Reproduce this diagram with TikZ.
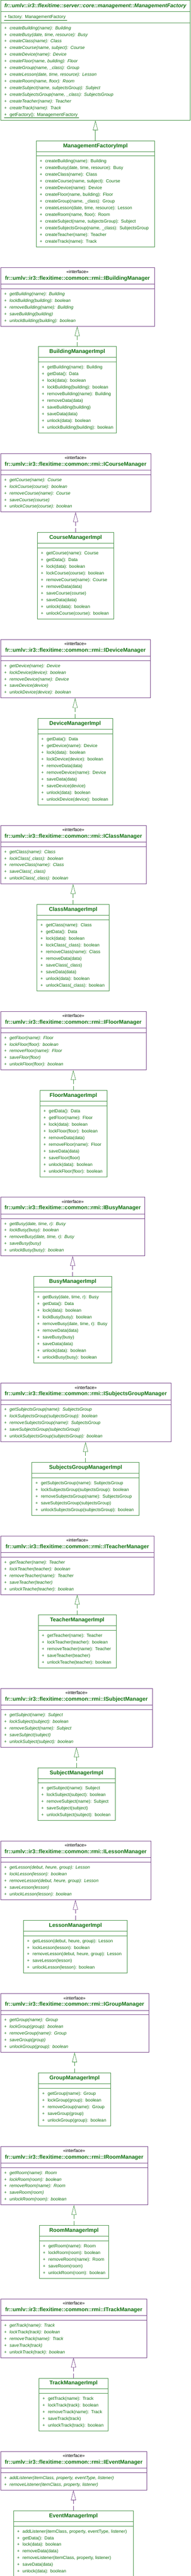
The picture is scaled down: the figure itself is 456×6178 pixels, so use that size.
\documentclass[tikz,border=0pt]{standalone}
\usepackage{fontspec}
\setmainfont{Liberation Sans}
\usetikzlibrary{arrows.meta}
\usetikzlibrary{shapes.multipart}
\definecolor{umlText}{RGB}{16,112,16}
\definecolor{umlGreen}{RGB}{76,150,76}
\definecolor{umlPurple}{RGB}{122,72,140}

\begin{document}
\begin{tikzpicture}[x = 1pt, y = -1pt, font = \fontsize{10.6}{16}\selectfont]
	\tikzstyle{classStyle} = [rectangle split, rectangle split parts = 3, anchor = north, outer sep = 0pt, inner xsep = 8.5pt, inner ysep = 4.5pt, line width = 0.9pt, align = left, text = umlText]
	\tikzstyle{interfaceStyle} = [classStyle, draw = umlPurple]
	\tikzstyle{implStyle} = [classStyle, draw = umlGreen]
	\tikzstyle{inheritStyle} = [draw = umlGreen, line width = 0.9pt, -{Triangle[open, length = 24pt, width = 12pt]}]
	\tikzstyle{realizeGreenStyle} = [inheritStyle, dash pattern = on 11pt off 5pt]
	\tikzstyle{realizePurpleStyle} = [realizeGreenStyle, draw = umlPurple]
	\useasboundingbox (0,0) rectangle (456,6178);
	\node[implStyle, text width = 436.8pt] (c0) at (228.4, 0.6) {\centering\fontsize{12.8}{17}\selectfont\bfseries\itshape\strut fr::umlv::ir3::flexitime::server::core::management::ManagementFactory\par
		\nodepart{two}\fontsize{10.6}{17}\selectfont\strut\underline{+ factory: ManagementFactory\ }
		\nodepart{three}\itshape\begin{tabular}{@{}l@{}}+~~createBuilding(name): Building\\ +~~createBusy(date, time, resource): Busy\\ +~~createClass(name): Class\\ +~~createCourse(name, subject): Course\\ +~~createDevice(name): Device\\ +~~createFloor(name, building): Floor\\ +~~createGroup(name, \_class): Group\\ +~~createLesson(date, time, resource): Lesson\\ +~~createRoom(name, floor): Room\\ +~~createSubject(name, subjectsGroup): Subject\\ +~~createSubjectsGroup(name, \_class): SubjectsGroup\\ +~~createTeacher(name): Teacher\\ +~~createTrack(name): Track\\ \upshape\underline{+~~getFactory(): ManagementFactory\ }\end{tabular}};
	\node[implStyle, text width = 267pt] (c1) at (228.4, 337.3) {\centering\fontsize{13.1}{16}\selectfont\bfseries\strut ManagementFactoryImpl\par
		\nodepart{two}\rule{0pt}{1pt}
		\nodepart{three}\begin{tabular}{@{}l@{}}+~~createBuilding(name): Building\\ +~~createBusy(date, time, resource): Busy\\ +~~createClass(name): Class\\ +~~createCourse(name, subject): Course\\ +~~createDevice(name): Device\\ +~~createFloor(name, building): Floor\\ +~~createGroup(name, \_class): Group\\ +~~createLesson(date, time, resource): Lesson\\ +~~createRoom(name, floor): Room\\ +~~createSubject(name, subjectsGroup): Subject\\ +~~createSubjectsGroup(name, \_class): SubjectsGroup\\ +~~createTeacher(name): Teacher\\ +~~createTrack(name): Track\end{tabular}};
	\node[interfaceStyle, text width = 351.4pt] (c2) at (185.5, 641.3) {\centering\rule{0pt}{9.2pt}{\fontsize{10.6}{15.7}\selectfont\color{black}«interface»}\\ \fontsize{13.1}{15.7}\selectfont\bfseries fr::umlv::ir3::flexitime::common::rmi::IBuildingManager\rule[-5.1pt]{0pt}{5.1pt}\par
		\nodepart{two}\rule{0pt}{1pt}
		\nodepart{three}\itshape\begin{tabular}{@{}l@{}}+~~getBuilding(name): Building\\ +~~lockBuilding(building): boolean\\ +~~removeBuilding(name): Building\\ +~~saveBuilding(building)\\ +~~unlockBuilding(building): boolean\end{tabular}};
	\node[implStyle, text width = 170pt] (c3) at (184.8, 831.3) {\centering\fontsize{13.1}{16}\selectfont\bfseries\strut BuildingManagerImpl\par
		\nodepart{two}\rule{0pt}{1pt}
		\nodepart{three}\begin{tabular}{@{}l@{}}+~~getBuilding(name): Building\\ +~~getData(): Data\\ +~~lock(data): boolean\\ +~~lockBuilding(building): boolean\\ +~~removeBuilding(name): Building\\ +~~removeData(data)\\ +~~saveBuilding(building)\\ +~~saveData(data)\\ +~~unlock(data): boolean\\ +~~unlockBuilding(building): boolean\end{tabular}};
	\node[interfaceStyle, text width = 342.4pt] (c4) at (181, 1087.3) {\centering\rule{0pt}{9.2pt}{\fontsize{10.6}{15.7}\selectfont\color{black}«interface»}\\ \fontsize{13.1}{15.7}\selectfont\bfseries fr::umlv::ir3::flexitime::common::rmi::ICourseManager\rule[-5.1pt]{0pt}{5.1pt}\par
		\nodepart{two}\rule{0pt}{1pt}
		\nodepart{three}\itshape\begin{tabular}{@{}l@{}}+~~getCourse(name): Course\\ +~~lockCourse(course): boolean\\ +~~removeCourse(name): Course\\ +~~saveCourse(course)\\ +~~unlockCourse(course): boolean\end{tabular}};
	\node[implStyle, text width = 166.4pt] (c5) at (181, 1277.3) {\centering\fontsize{13.1}{16}\selectfont\bfseries\strut CourseManagerImpl\par
		\nodepart{two}\rule{0pt}{1pt}
		\nodepart{three}\begin{tabular}{@{}l@{}}+~~getCourse(name): Course\\ +~~getData(): Data\\ +~~lock(data): boolean\\ +~~lockCourse(course): boolean\\ +~~removeCourse(name): Course\\ +~~removeData(data)\\ +~~saveCourse(course)\\ +~~saveData(data)\\ +~~unlock(data): boolean\\ +~~unlockCourse(course): boolean\end{tabular}};
	\node[interfaceStyle, text width = 341.4pt] (c6) at (180.5, 1533.3) {\centering\rule{0pt}{9.2pt}{\fontsize{10.6}{15.7}\selectfont\color{black}«interface»}\\ \fontsize{13.1}{15.7}\selectfont\bfseries fr::umlv::ir3::flexitime::common::rmi::IDeviceManager\rule[-5.1pt]{0pt}{5.1pt}\par
		\nodepart{two}\rule{0pt}{1pt}
		\nodepart{three}\itshape\begin{tabular}{@{}l@{}}+~~getDevice(name): Device\\ +~~lockDevice(device): boolean\\ +~~removeDevice(name): Device\\ +~~saveDevice(device)\\ +~~unlockDevice(device): boolean\end{tabular}};
	\node[implStyle, text width = 162pt] (c7) at (179.8, 1723.3) {\centering\fontsize{13.1}{16}\selectfont\bfseries\strut DeviceManagerImpl\par
		\nodepart{two}\rule{0pt}{1pt}
		\nodepart{three}\begin{tabular}{@{}l@{}}+~~getData(): Data\\ +~~getDevice(name): Device\\ +~~lock(data): boolean\\ +~~lockDevice(device): boolean\\ +~~removeData(data)\\ +~~removeDevice(name): Device\\ +~~saveData(data)\\ +~~saveDevice(device)\\ +~~unlock(data): boolean\\ +~~unlockDevice(device): boolean\end{tabular}};
	\node[interfaceStyle, text width = 331.4pt] (c8) at (175.5, 1979.3) {\centering\rule{0pt}{9.2pt}{\fontsize{10.6}{15.7}\selectfont\color{black}«interface»}\\ \fontsize{13.1}{15.7}\selectfont\bfseries fr::umlv::ir3::flexitime::common::rmi::IClassManager\rule[-5.1pt]{0pt}{5.1pt}\par
		\nodepart{two}\rule{0pt}{1pt}
		\nodepart{three}\itshape\begin{tabular}{@{}l@{}}+~~getClass(name): Class\\ +~~lockClass(\_class): boolean\\ +~~removeClass(name): Class\\ +~~saveClass(\_class)\\ +~~unlockClass(\_class): boolean\end{tabular}};
	\node[implStyle, text width = 156.4pt] (c9) at (175, 2169.3) {\centering\fontsize{13.1}{16}\selectfont\bfseries\strut ClassManagerImpl\par
		\nodepart{two}\rule{0pt}{1pt}
		\nodepart{three}\begin{tabular}{@{}l@{}}+~~getClass(name): Class\\ +~~getData(): Data\\ +~~lock(data): boolean\\ +~~lockClass(\_class): boolean\\ +~~removeClass(name): Class\\ +~~removeData(data)\\ +~~saveClass(\_class)\\ +~~saveData(data)\\ +~~unlock(data): boolean\\ +~~unlockClass(\_class): boolean\end{tabular}};
	\node[interfaceStyle, text width = 331.4pt] (c10) at (175.5, 2425.3) {\centering\rule{0pt}{9.2pt}{\fontsize{10.6}{15.7}\selectfont\color{black}«interface»}\\ \fontsize{13.1}{15.7}\selectfont\bfseries fr::umlv::ir3::flexitime::common::rmi::IFloorManager\rule[-5.1pt]{0pt}{5.1pt}\par
		\nodepart{two}\rule{0pt}{1pt}
		\nodepart{three}\itshape\begin{tabular}{@{}l@{}}+~~getFloor(name): Floor\\ +~~lockFloor(floor): boolean\\ +~~removeFloor(name): Floor\\ +~~saveFloor(floor)\\ +~~unlockFloor(floor): boolean\end{tabular}};
	\node[implStyle, text width = 143.4pt] (c11) at (175.5, 2615.3) {\centering\fontsize{13.1}{16}\selectfont\bfseries\strut FloorManagerImpl\par
		\nodepart{two}\rule{0pt}{1pt}
		\nodepart{three}\begin{tabular}{@{}l@{}}+~~getData(): Data\\ +~~getFloor(name): Floor\\ +~~lock(data): boolean\\ +~~lockFloor(floor): boolean\\ +~~removeData(data)\\ +~~removeFloor(name): Floor\\ +~~saveData(data)\\ +~~saveFloor(floor)\\ +~~unlock(data): boolean\\ +~~unlockFloor(floor): boolean\end{tabular}};
	\node[interfaceStyle, text width = 328.4pt] (c12) at (174, 2871.3) {\centering\rule{0pt}{9.2pt}{\fontsize{10.6}{15.7}\selectfont\color{black}«interface»}\\ \fontsize{13.1}{15.7}\selectfont\bfseries fr::umlv::ir3::flexitime::common::rmi::IBusyManager\rule[-5.1pt]{0pt}{5.1pt}\par
		\nodepart{two}\rule{0pt}{1pt}
		\nodepart{three}\itshape\begin{tabular}{@{}l@{}}+~~getBusy(date, time, r): Busy\\ +~~lockBusy(busy): boolean\\ +~~removeBusy(date, time, r): Busy\\ +~~saveBusy(busy)\\ +~~unlockBusy(busy): boolean\end{tabular}};
	\node[implStyle, text width = 170.4pt] (c13) at (174, 3061.3) {\centering\fontsize{13.1}{16}\selectfont\bfseries\strut BusyManagerImpl\par
		\nodepart{two}\rule{0pt}{1pt}
		\nodepart{three}\begin{tabular}{@{}l@{}}+~~getBusy(date, time, r): Busy\\ +~~getData(): Data\\ +~~lock(data): boolean\\ +~~lockBusy(busy): boolean\\ +~~removeBusy(date, time, r): Busy\\ +~~removeData(data)\\ +~~saveBusy(busy)\\ +~~saveData(data)\\ +~~unlock(data): boolean\\ +~~unlockBusy(busy): boolean\end{tabular}};
	\node[interfaceStyle, text width = 391pt] (c14) at (205.3, 3317.3) {\centering\rule{0pt}{9.2pt}{\fontsize{10.6}{15.7}\selectfont\color{black}«interface»}\\ \fontsize{13.1}{15.7}\selectfont\bfseries fr::umlv::ir3::flexitime::common::rmi::ISubjectsGroupManager\rule[-5.1pt]{0pt}{5.1pt}\par
		\nodepart{two}\rule{0pt}{1pt}
		\nodepart{three}\itshape\begin{tabular}{@{}l@{}}+~~getSubjectsGroup(name): SubjectsGroup\\ +~~lockSubjectsGroup(subjectsGroup): boolean\\ +~~removeSubjectsGroup(name): SubjectsGroup\\ +~~saveSubjectsGroup(subjectsGroup)\\ +~~unlockSubjectsGroup(subjectsGroup): boolean\end{tabular}};
	\node[implStyle, text width = 240pt] (c15) at (204.8, 3507.3) {\centering\fontsize{13.1}{16}\selectfont\bfseries\strut SubjectsGroupManagerImpl\par
		\nodepart{two}\rule{0pt}{1pt}
		\nodepart{three}\begin{tabular}{@{}l@{}}+~~getSubjectsGroup(name): SubjectsGroup\\ +~~lockSubjectsGroup(subjectsGroup): boolean\\ +~~removeSubjectsGroup(name): SubjectsGroup\\ +~~saveSubjectsGroup(subjectsGroup)\\ +~~unlockSubjectsGroup(subjectsGroup): boolean\end{tabular}};
	\node[interfaceStyle, text width = 350.4pt] (c16) at (185, 3683.3) {\centering\rule{0pt}{9.2pt}{\fontsize{10.6}{15.7}\selectfont\color{black}«interface»}\\ \fontsize{13.1}{15.7}\selectfont\bfseries fr::umlv::ir3::flexitime::common::rmi::ITeacherManager\rule[-5.1pt]{0pt}{5.1pt}\par
		\nodepart{two}\rule{0pt}{1pt}
		\nodepart{three}\itshape\begin{tabular}{@{}l@{}}+~~getTeacher(name): Teacher\\ +~~lockTeacher(teacher): boolean\\ +~~removeTeacher(name): Teacher\\ +~~saveTeacher(teacher)\\ +~~unlockTeache(teacher): boolean\end{tabular}};
	\node[implStyle, text width = 170pt] (c17) at (184.8, 3873.3) {\centering\fontsize{13.1}{16}\selectfont\bfseries\strut TeacherManagerImpl\par
		\nodepart{two}\rule{0pt}{1pt}
		\nodepart{three}\begin{tabular}{@{}l@{}}+~~getTeacher(name): Teacher\\ +~~lockTeacher(teacher): boolean\\ +~~removeTeacher(name): Teacher\\ +~~saveTeacher(teacher)\\ +~~unlockTeache(teacher): boolean\end{tabular}};
	\node[interfaceStyle, text width = 346.4pt] (c18) at (183, 4049.3) {\centering\rule{0pt}{9.2pt}{\fontsize{10.6}{15.7}\selectfont\color{black}«interface»}\\ \fontsize{13.1}{15.7}\selectfont\bfseries fr::umlv::ir3::flexitime::common::rmi::ISubjectManager\rule[-5.1pt]{0pt}{5.1pt}\par
		\nodepart{two}\rule{0pt}{1pt}
		\nodepart{three}\itshape\begin{tabular}{@{}l@{}}+~~getSubject(name): Subject\\ +~~lockSubject(subject): boolean\\ +~~removeSubject(name): Subject\\ +~~saveSubject(subject)\\ +~~unlockSubject(subject): boolean\end{tabular}};
	\node[implStyle, text width = 168.4pt] (c19) at (183, 4239.3) {\centering\fontsize{13.1}{16}\selectfont\bfseries\strut SubjectManagerImpl\par
		\nodepart{two}\rule{0pt}{1pt}
		\nodepart{three}\begin{tabular}{@{}l@{}}+~~getSubject(name): Subject\\ +~~lockSubject(subject): boolean\\ +~~removeSubject(name): Subject\\ +~~saveSubject(subject)\\ +~~unlockSubject(subject): boolean\end{tabular}};
	\node[interfaceStyle, text width = 342.4pt] (c20) at (181, 4415.3) {\centering\rule{0pt}{9.2pt}{\fontsize{10.6}{15.7}\selectfont\color{black}«interface»}\\ \fontsize{13.1}{15.7}\selectfont\bfseries fr::umlv::ir3::flexitime::common::rmi::ILessonManager\rule[-5.1pt]{0pt}{5.1pt}\par
		\nodepart{two}\rule{0pt}{1pt}
		\nodepart{three}\itshape\begin{tabular}{@{}l@{}}+~~getLesson(debut, heure, group): Lesson\\ +~~lockLesson(lesson): boolean\\ +~~removeLesson(debut, heure, group): Lesson\\ +~~saveLesson(lesson)\\ +~~unlockLesson(lesson): boolean\end{tabular}};
	\node[implStyle, text width = 231.4pt] (c21) at (180.5, 4605.3) {\centering\fontsize{13.1}{16}\selectfont\bfseries\strut LessonManagerImpl\par
		\nodepart{two}\rule{0pt}{1pt}
		\nodepart{three}\begin{tabular}{@{}l@{}}+~~getLesson(debut, heure, group): Lesson\\ +~~lockLesson(lesson): boolean\\ +~~removeLesson(debut, heure, group): Lesson\\ +~~saveLesson(lesson)\\ +~~unlockLesson(lesson): boolean\end{tabular}};
	\node[interfaceStyle, text width = 337.4pt] (c22) at (178.5, 4781.3) {\centering\rule{0pt}{9.2pt}{\fontsize{10.6}{15.7}\selectfont\color{black}«interface»}\\ \fontsize{13.1}{15.7}\selectfont\bfseries fr::umlv::ir3::flexitime::common::rmi::IGroupManager\rule[-5.1pt]{0pt}{5.1pt}\par
		\nodepart{two}\rule{0pt}{1pt}
		\nodepart{three}\itshape\begin{tabular}{@{}l@{}}+~~getGroup(name): Group\\ +~~lockGroup(group): boolean\\ +~~removeGroup(name): Group\\ +~~saveGroup(group)\\ +~~unlockGroup(group): boolean\end{tabular}};
	\node[implStyle, text width = 155.4pt] (c23) at (178.5, 4971.3) {\centering\fontsize{13.1}{16}\selectfont\bfseries\strut GroupManagerImpl\par
		\nodepart{two}\rule{0pt}{1pt}
		\nodepart{three}\begin{tabular}{@{}l@{}}+~~getGroup(name): Group\\ +~~lockGroup(group): boolean\\ +~~removeGroup(name): Group\\ +~~saveGroup(group)\\ +~~unlockGroup(group): boolean\end{tabular}};
	\node[interfaceStyle, text width = 335.4pt] (c24) at (177.5, 5147.3) {\centering\rule{0pt}{9.2pt}{\fontsize{10.6}{15.7}\selectfont\color{black}«interface»}\\ \fontsize{13.1}{15.7}\selectfont\bfseries fr::umlv::ir3::flexitime::common::rmi::IRoomManager\rule[-5.1pt]{0pt}{5.1pt}\par
		\nodepart{two}\rule{0pt}{1pt}
		\nodepart{three}\itshape\begin{tabular}{@{}l@{}}+~~getRoom(name): Room\\ +~~lockRoom(room): boolean\\ +~~removeRoom(name): Room\\ +~~saveRoom(room)\\ +~~unlockRoom(room): boolean\end{tabular}};
	\node[implStyle, text width = 148.4pt] (c25) at (177, 5337.3) {\centering\fontsize{13.1}{16}\selectfont\bfseries\strut RoomManagerImpl\par
		\nodepart{two}\rule{0pt}{1pt}
		\nodepart{three}\begin{tabular}{@{}l@{}}+~~getRoom(name): Room\\ +~~lockRoom(room): boolean\\ +~~removeRoom(name): Room\\ +~~saveRoom(room)\\ +~~unlockRoom(room): boolean\end{tabular}};
	\node[interfaceStyle, text width = 333.4pt] (c26) at (176.5, 5513.3) {\centering\rule{0pt}{9.2pt}{\fontsize{10.6}{15.7}\selectfont\color{black}«interface»}\\ \fontsize{13.1}{15.7}\selectfont\bfseries fr::umlv::ir3::flexitime::common::rmi::ITrackManager\rule[-5.1pt]{0pt}{5.1pt}\par
		\nodepart{two}\rule{0pt}{1pt}
		\nodepart{three}\itshape\begin{tabular}{@{}l@{}}+~~getTrack(name): Track\\ +~~lockTrack(track): boolean\\ +~~removeTrack(name): Track\\ +~~saveTrack(track)\\ +~~unlockTrack(track): boolean\end{tabular}};
	\node[implStyle, text width = 148.4pt] (c27) at (176, 5703.3) {\centering\fontsize{13.1}{16}\selectfont\bfseries\strut TrackManagerImpl\par
		\nodepart{two}\rule{0pt}{1pt}
		\nodepart{three}\begin{tabular}{@{}l@{}}+~~getTrack(name): Track\\ +~~lockTrack(track): boolean\\ +~~removeTrack(name): Track\\ +~~saveTrack(track)\\ +~~unlockTrack(track): boolean\end{tabular}};
	\node[interfaceStyle, text width = 333.4pt] (c28) at (176.5, 5879.3) {\centering\rule{0pt}{9.2pt}{\fontsize{10.6}{15.7}\selectfont\color{black}«interface»}\\ \fontsize{13.1}{15.7}\selectfont\bfseries fr::umlv::ir3::flexitime::common::rmi::IEventManager\rule[-5.1pt]{0pt}{5.1pt}\par
		\nodepart{two}\rule{0pt}{1pt}
		\nodepart{three}\itshape\begin{tabular}{@{}l@{}}+~~addListener(itemClass, property, eventType, listener)\\ +~~removeListener(itemClass, property, listener)\end{tabular}};
	\node[implStyle, text width = 270pt] (c29) at (175.8, 6021.3) {\centering\fontsize{13.1}{16}\selectfont\bfseries\strut EventManagerImpl\par
		\nodepart{two}\rule{0pt}{1pt}
		\nodepart{three}\begin{tabular}{@{}l@{}}+~~addListener(itemClass, property, eventType, listener)\\ +~~getData(): Data\\ +~~lock(data): boolean\\ +~~removeData(data)\\ +~~removeListener(itemClass, property, listener)\\ +~~saveData(data)\\ +~~unlock(data): boolean\end{tabular}};
	\draw[inheritStyle] (c1.north) -- (c1.north |- c0.south);
	\draw[realizeGreenStyle] (c3.north) -- (c3.north |- c2.south);
	\draw[realizePurpleStyle] (c5.north) -- (c5.north |- c4.south);
	\draw[realizeGreenStyle] (c7.north) -- (c7.north |- c6.south);
	\draw[realizeGreenStyle] (c9.north) -- (c9.north |- c8.south);
	\draw[realizeGreenStyle] (c11.north) -- (c11.north |- c10.south);
	\draw[realizePurpleStyle] (c13.north) -- (c13.north |- c12.south);
	\draw[realizeGreenStyle] (c15.north) -- (c15.north |- c14.south);
	\draw[realizeGreenStyle] (c17.north) -- (c17.north |- c16.south);
	\draw[realizeGreenStyle] (c19.north) -- (c19.north |- c18.south);
	\draw[realizePurpleStyle] (c21.north) -- (c21.north |- c20.south);
	\draw[realizeGreenStyle] (c23.north) -- (c23.north |- c22.south);
	\draw[realizeGreenStyle] (c25.north) -- (c25.north |- c24.south);
	\draw[realizePurpleStyle] (c27.north) -- (c27.north |- c26.south);
	\draw[realizePurpleStyle] (c29.north) -- (c29.north |- c28.south);
\end{tikzpicture}
\end{document}
